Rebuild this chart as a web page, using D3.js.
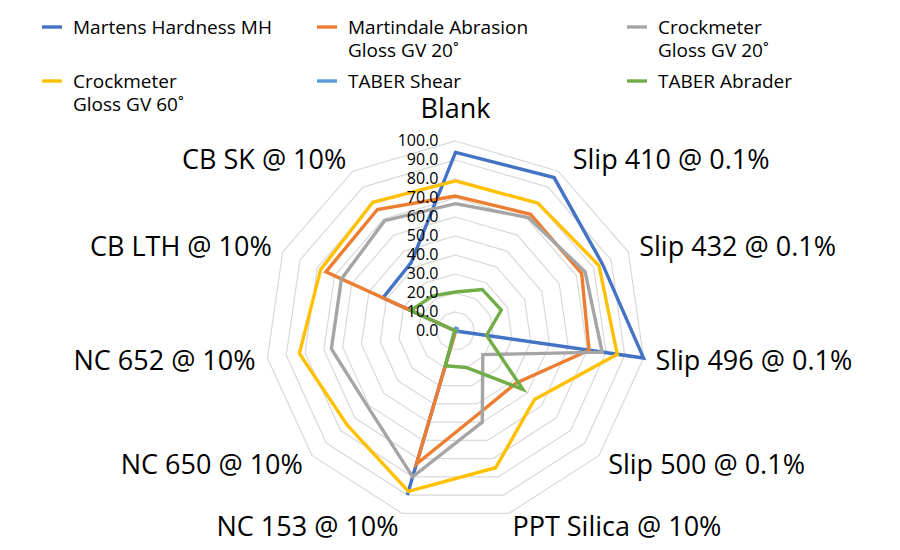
<!DOCTYPE html>
<html>
<head>
<meta charset="utf-8">
<script src="https://cdn.jsdelivr.net/npm/d3@7"></script>
<style>
  body { margin: 0; background: #fff; }
  svg { display: block; font-family: "Open Sans", sans-serif; }
</style>
</head>
<body>
<div id="chart"></div>
<script>
// categories (clockwise from the top)
const categories = [
  "Blank", "Slip 410 @ 0.1%", "Slip 432 @ 0.1%", "Slip 496 @ 0.1%",
  "Slip 500 @ 0.1%", "PPT Silica @ 10%", "NC 153 @ 10%", "NC 650 @ 10%",
  "NC 652 @ 10%", "CB LTH @ 10%", "CB SK @ 10%"
];

// series values
const martensHardness = [94, 96, 85, 100, 0, 0, 90, 0, 0, 42, 43];
const martindaleGloss20 = [71, 73, 73, 71, 42, 45, 73, 0, 0, 75, 76];
const crockGloss20 = [67, 71, 75, 78, 19, 50, 80, 61, 66, 66, 69];
const crockGloss60 = [79, 80, 83, 86, 55, 75, 88, 75.5, 83, 78, 80.5];
const taberShear = [1.5, 1.5, 1, 1, 0.5, 0.5, 0.5, 0.5, 0.5, 0.5, 1];
const taberAbrader = [20.5, 26, 26.5, 16.5, 47, 20, 19, 1, 0, 26, 22];

const seriesNames = [
  ["Martens Hardness MH"],
  ["Martindale Abrasion", "Gloss GV 20˚"],
  ["Crockmeter", "Gloss GV 20˚"],
  ["Crockmeter", "Gloss GV 60˚"],
  ["TABER Shear"],
  ["TABER Abrader"]
];
const seriesValues = [martensHardness, martindaleGloss20, crockGloss20, crockGloss60, taberShear, taberAbrader];
const seriesColors = ["#4472C4", "#ED7D31", "#A5A5A5", "#FFC000", "#5B9BD5", "#70AD47"];

const width = 900, height = 550;
const cx = 455.5, cy = 331, R = 190;

const svg = d3.select("#chart").append("svg")
  .attr("width", width)
  .attr("height", height);

const r = d3.scaleLinear().domain([0, 100]).range([0, R]);
const angle = d3.scaleLinear().domain([0, categories.length]).range([0, 2 * Math.PI]);
const ticks = r.ticks(10);

const plot = svg.append("g").attr("transform", `translate(${cx},${cy})`);

// grid rings
const ringLine = d3.lineRadial()
  .angle((d, i) => angle(i))
  .radius(d => r(d))
  .curve(d3.curveLinearClosed);

plot.append("g")
  .selectAll("path")
  .data(ticks.filter(t => t > 0))
  .join("path")
  .attr("d", t => ringLine(categories.map(() => t)))
  .attr("fill", "none")
  .attr("stroke", "#D9D9D9")
  .attr("stroke-width", 1.2);

// series
plot.append("g")
  .selectAll("path")
  .data(seriesValues)
  .join("path")
  .attr("d", d => ringLine(d))
  .attr("fill", "none")
  .attr("stroke", (d, i) => seriesColors[i])
  .attr("stroke-width", 3.4)
  .attr("stroke-linejoin", "miter");

// value axis labels
plot.append("g")
  .selectAll("text")
  .data(ticks)
  .join("text")
  .attr("x", -17)
  .attr("y", t => -r(t))
  .attr("dy", "0.33em")
  .attr("text-anchor", "end")
  .style("font-size", "16px")
  .style("fill", "#000")
  .text(d3.format(".1f"));

// category labels
plot.append("g")
  .selectAll("text")
  .data(categories)
  .join("text")
  .each(function(d, i) {
    const a = angle(i);
    const ux = Math.sin(a), uy = -Math.cos(a);
    let anchor = "middle";
    if (ux > 0.1) anchor = "start";
    else if (ux < -0.1) anchor = "end";
    const x = (R + 12) * ux + (anchor === "start" && uy < -0.5 ? 8 : 0);
    let y = R * uy + uy * 14;
    if (anchor === "middle") y += uy * 19;
    d3.select(this)
      .attr("x", x)
      .attr("y", y)
      .attr("dy", "0.36em")
      .attr("text-anchor", anchor);
  })
  .style("font-size", "27px")
  .style("fill", "#000")
  .text(d => d);

// legend
const legendCols = [73, 348, 658];
const legendRows = [27, 81];
const legend = svg.append("g")
  .selectAll("g")
  .data(seriesNames)
  .join("g")
  .attr("transform", (d, i) => `translate(${legendCols[i % 3]},${legendRows[Math.floor(i / 3)]})`);

legend.append("line")
  .attr("x1", -31)
  .attr("x2", -11)
  .attr("y1", 0)
  .attr("y2", 0)
  .attr("stroke", (d, i) => seriesColors[i])
  .attr("stroke-width", 3.4);

legend.append("text")
  .style("font-size", "19px")
  .style("fill", "#000")
  .selectAll("tspan")
  .data(d => d)
  .join("tspan")
  .attr("x", 0)
  .attr("y", (d, i) => i * 23)
  .attr("dy", "0.35em")
  .text(d => d);
</script>
</body>
</html>
